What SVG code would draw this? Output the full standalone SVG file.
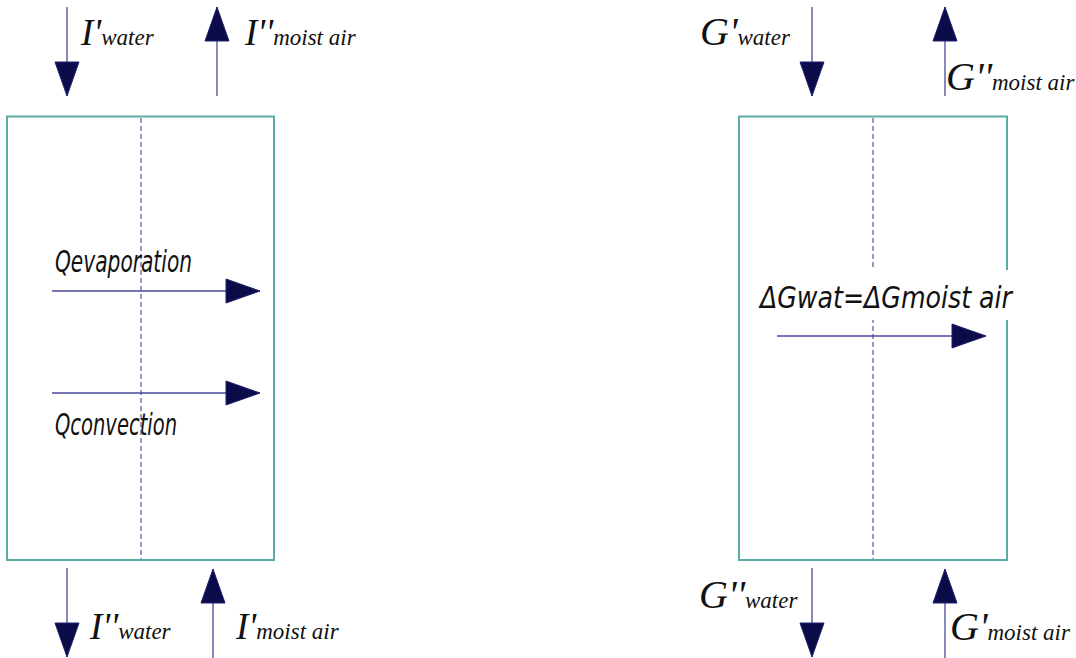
<svg xmlns="http://www.w3.org/2000/svg" width="1076" height="658" viewBox="0 0 1076 658">
<style>
.box{fill:none;stroke:#5aaba3;stroke-width:2}
.axis{stroke:#5d64a6;stroke-width:1.3;stroke-dasharray:5 3;fill:none}
.flow{stroke:#4a4a9c;stroke-width:1.3;fill:none;marker-end:url(#head)}
.lbl{font-family:"Liberation Serif","Times New Roman",serif;font-style:italic;fill:#111}
.bi{font-size:37px}
.bg{font-size:40px}
.sub{font-size:23px}
.gost{font-family:"DejaVu Sans Condensed","DejaVu Sans",sans-serif;font-style:oblique;fill:#111}
</style>
<defs>
<marker id="head" markerUnits="userSpaceOnUse" viewBox="0 0 36 26" markerWidth="36" markerHeight="26" refX="35" refY="13" orient="auto">
<path d="M1,1 L35,13 L1,25 Z" fill="#0b0b4a" stroke="#22226e" stroke-width="1"/>
</marker>
</defs>
<rect width="1076" height="658" fill="#fff"/>
<g id="box-left">
<rect class="box" x="7" y="116.5" width="267" height="443.5"/>
<line class="axis" x1="141" y1="118" x2="141" y2="559"/>
</g>
<g id="box-right">
<rect class="box" x="739" y="116.5" width="268" height="443.5"/>
<line class="axis" x1="873" y1="118" x2="873" y2="559"/>
</g>
<g id="connectors">
<line class="flow" x1="67" y1="7" x2="67" y2="96"/>
<line class="flow" x1="217" y1="96" x2="217" y2="7"/>
<line class="flow" x1="67" y1="568" x2="67" y2="657"/>
<line class="flow" x1="213" y1="658" x2="213" y2="569"/>
<line class="flow" x1="812" y1="7" x2="812" y2="96"/>
<line class="flow" x1="945" y1="96" x2="945" y2="7"/>
<line class="flow" x1="812" y1="568" x2="812" y2="657"/>
<line class="flow" x1="945" y1="658" x2="945" y2="569"/>
<line class="flow" x1="52" y1="291" x2="260" y2="291"/>
<line class="flow" x1="52" y1="393" x2="260" y2="393"/>
<line class="flow" x1="777" y1="336" x2="986" y2="336"/>
</g>
<g id="label-i-water-in">
<text class="lbl" x="81" y="45"><tspan class="bi">I'</tspan><tspan class="sub">water</tspan></text>
</g>
<g id="label-i-air-out">
<text class="lbl" x="245" y="45"><tspan class="bi">I''</tspan><tspan class="sub">moist air</tspan></text>
</g>
<g id="label-i-water-out">
<text class="lbl" x="90" y="639"><tspan class="bi">I''</tspan><tspan class="sub">water</tspan></text>
</g>
<g id="label-i-air-in">
<text class="lbl" x="236" y="639"><tspan class="bi">I'</tspan><tspan class="sub">moist air</tspan></text>
</g>
<g id="label-g-water-in">
<text class="lbl" x="700" y="45"><tspan class="bg">G'</tspan><tspan class="sub">water</tspan></text>
</g>
<g id="label-g-air-out">
<text class="lbl" x="946" y="90"><tspan class="bg">G''</tspan><tspan class="sub">moist air</tspan></text>
</g>
<g id="label-g-water-out">
<text class="lbl" x="699" y="608"><tspan class="bg">G''</tspan><tspan class="sub">water</tspan></text>
</g>
<g id="label-g-air-in">
<text class="lbl" x="950" y="640"><tspan class="bg">G'</tspan><tspan class="sub">moist air</tspan></text>
</g>
<g id="label-q-evap">
<text class="gost" x="55" y="272" font-size="30" textLength="137" lengthAdjust="spacingAndGlyphs">Qevaporation</text>
</g>
<g id="label-q-conv">
<text class="gost" x="55" y="435" font-size="30" textLength="122" lengthAdjust="spacingAndGlyphs">Qconvection</text>
</g>
<g id="label-dg">
<rect x="750" y="270" width="272" height="50" fill="#fff"/>
<text class="gost" x="760" y="308" font-size="30" textLength="252" lengthAdjust="spacingAndGlyphs">ΔGwat=ΔGmoist air</text>
</g>
</svg>
